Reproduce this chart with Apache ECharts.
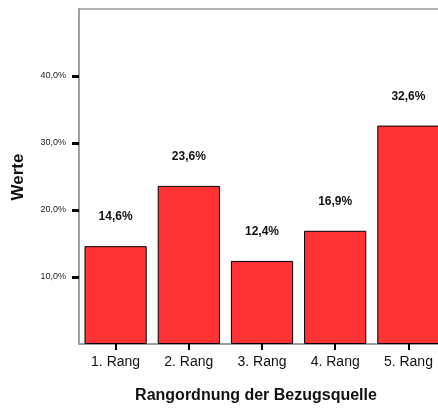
<!DOCTYPE html>
<html>
<head>
<meta charset="utf-8">
<script src="https://cdn.jsdelivr.net/npm/echarts@6/dist/echarts.min.js"></script>
<style>
  html, body { margin: 0; padding: 0; background: #fff; }
  #chart { width: 438px; height: 408px; }
</style>
</head>
<body>
<div id="chart"></div>
<script>
// Share of answers per rank of the source
const categories = ['1. Rang', '2. Rang', '3. Rang', '4. Rang', '5. Rang'];
const values = [14.6, 23.6, 12.4, 16.9, 32.6];
const yTicks = [10, 20, 30, 40];
const xTitle = 'Rangordnung der Bezugsquelle';
const yTitle = 'Werte';

const pct = v => v.toFixed(1).replace('.', ',') + '%';
const FONT = '"Liberation Sans", Arial, Helvetica, sans-serif';

const chart = echarts.init(document.getElementById('chart'), null, { renderer: 'canvas' });
chart.setOption({
  animation: false,
  backgroundColor: '#ffffff',
  grid: {
    left: 79, top: 9, width: 366, height: 335,
    containLabel: false,
    outerBoundsMode: 'none',
    show: true, borderColor: '#9a9a9a', borderWidth: 1.5, backgroundColor: 'transparent'
  },
  xAxis: {
    type: 'category',
    data: categories,
    axisLine: { show: true, lineStyle: { color: '#9a9a9a', width: 1.5 } },
    axisTick: { show: true, alignWithLabel: true, length: 6, lineStyle: { color: '#000', width: 2 } },
    axisLabel: { margin: 11, fontFamily: FONT, fontSize: 14, color: '#111' }
  },
  yAxis: {
    type: 'value',
    min: 0, max: 50, interval: 10,
    splitLine: { show: false },
    axisLine: { show: true, lineStyle: { color: '#9a9a9a', width: 1.5 } },
    axisTick: { show: true, length: 7, customValues: yTicks, lineStyle: { color: '#000', width: 3 } },
    axisLabel: { margin: 13, customValues: yTicks, fontFamily: FONT, fontSize: 9, color: '#222', formatter: v => pct(v) }
  },
  series: [{
    type: 'bar',
    data: values,
    barCategoryGap: '15%',
    itemStyle: { color: '#ff3333', borderColor: '#000', borderWidth: 1 },
    label: {
      show: true, position: 'top', distance: 23,
      fontFamily: FONT, fontSize: 12, fontWeight: 'bold', color: '#111',
      formatter: p => pct(p.value)
    }
  }],
  graphic: [
    {
      type: 'text', x: 256, y: 396,
      style: { text: xTitle, fontFamily: FONT, fontSize: 16, fontWeight: 'bold', fill: '#111',
               textAlign: 'center', textVerticalAlign: 'middle' }
    },
    {
      type: 'text', x: 18, y: 177, rotation: Math.PI / 2,
      style: { text: yTitle, fontFamily: FONT, fontSize: 17, fontWeight: 'bold', fill: '#111',
               textAlign: 'center', textVerticalAlign: 'middle' }
    }
  ]
});
</script>
</body>
</html>
